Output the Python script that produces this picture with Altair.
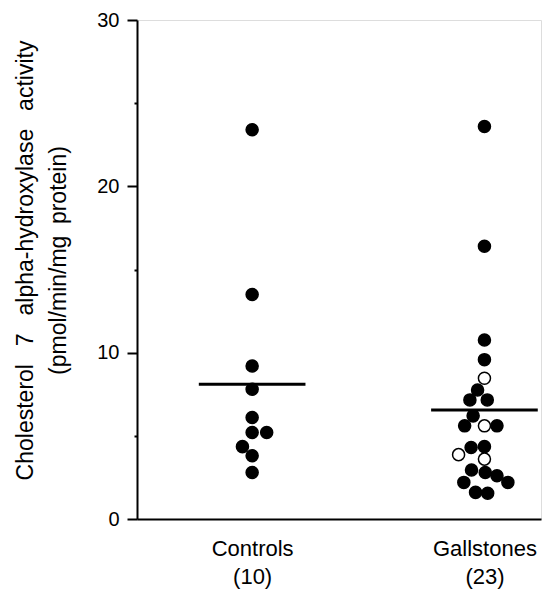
import altair as alt
import pandas as pd

# ---- data ----
groups = ["Controls", "Gallstones"]
group_n = [10, 23]
group_pos = [28.5, 86.0]           # x location of each group on a 0-100 axis
mean_values = [8.1, 6.55]

control_values = [23.4, 13.5, 9.2, 7.8, 6.1, 5.2, 5.2, 4.35, 3.8, 2.8]
control_jitter = [0, 0, 0, 0, 0, 0, 3.6, -2.4, 0, 0]
control_open = [False] * 10

gall_values = [23.6, 16.4, 10.76, 9.58, 8.46, 7.76, 7.16, 7.16, 6.2, 5.6, 5.6, 5.6,
               4.3, 4.35, 3.87, 3.6, 2.95, 2.8, 2.6, 2.2, 2.2, 1.6, 1.55]
gall_jitter = [0, 0, 0, 0, 0, -1.7, -3.6, 0.7, -2.8, -4.9, 0, 3.1,
               -3.3, 0, -6.4, 0, -3.2, 0.2, 3.1, 5.8, -5.1, -2.2, 0.8]
gall_open = [False, False, False, False, True, False, False, False, False, False, True, False,
             False, False, True, True, False, False, False, False, False, False, False]

y_ticks = [0, 5, 10, 15, 20, 25, 30]

rows = []
for v, j, o in zip(control_values, control_jitter, control_open):
    rows.append({"group": groups[0], "x": group_pos[0] + j, "value": v, "kind": "open" if o else "filled"})
for v, j, o in zip(gall_values, gall_jitter, gall_open):
    rows.append({"group": groups[1], "x": group_pos[1] + j, "value": v, "kind": "open" if o else "filled"})
points = pd.DataFrame(rows)

half = 13.2
means = pd.DataFrame({
    "group": groups,
    "x": [p - half for p in group_pos],
    "x2": [p + half for p in group_pos],
    "mean": mean_values,
})

FONT = "Liberation Sans"
label_expr = (
    f"datum.value < 50 ? ['{groups[0]}', '({group_n[0]})'] : ['{groups[1]}', '({group_n[1]})']"
)

x_scale = alt.Scale(domain=[0, 100], nice=False, zero=False)
y_scale = alt.Scale(domain=[0, 30], nice=False)

x_axis = alt.Axis(
    values=group_pos, labelExpr=label_expr, title=None, ticks=False, grid=False,
    domainColor="black", domainWidth=2, labelFont=FONT, labelFontSize=22,
    labelColor="black", labelPadding=19, labelLineHeight=28, labelBaseline="top",
)
y_axis = alt.Axis(
    values=y_ticks, grid=False,
    labelExpr="datum.value % 10 === 0 ? datum.value : ''",
    tickSize={"condition": {"test": "datum.value % 10 !== 0", "value": 3}, "value": 10},
    tickColor="black", tickWidth=2, domainColor="black", domainWidth=2,
    labelFont=FONT, labelFontSize=20, labelColor="black", labelPadding=8,
    title=["Cholesterol\u2002 7\u2002 alpha-hydroxylase\u2002 activity", "(pmol/min/mg\u2002protein)"],
    titleFont=FONT, titleFontSize=23, titleFontWeight="normal", titleColor="black",
    titleLineHeight=33, titleAngle=270, titleAlign="center", titleBaseline="middle",
    titleX=-112, titleY=240,
)

dots = alt.Chart(points).mark_circle(size=145, opacity=1, stroke="black", strokeWidth=1.5).encode(
    x=alt.X("x:Q", scale=x_scale, axis=x_axis),
    y=alt.Y("value:Q", scale=y_scale, axis=y_axis),
    fill=alt.Fill("kind:N", scale=alt.Scale(domain=["filled", "open"], range=["black", "white"]), legend=None),
)

mean_lines = alt.Chart(means).mark_rule(color="black", strokeWidth=3).encode(
    x=alt.X("x:Q", scale=x_scale),
    x2="x2:Q",
    y=alt.Y("mean:Q", scale=y_scale),
)

chart = alt.layer(mean_lines, dots).properties(
    width=404, height=499,
    autosize=alt.AutoSizeParams(type="none"),
    padding={"left": 129, "top": 12, "right": 7, "bottom": 70},
).configure_view(stroke=None).configure(background="white")

chart.save("out.html", embed_options={"renderer": "svg", "actions": False})
